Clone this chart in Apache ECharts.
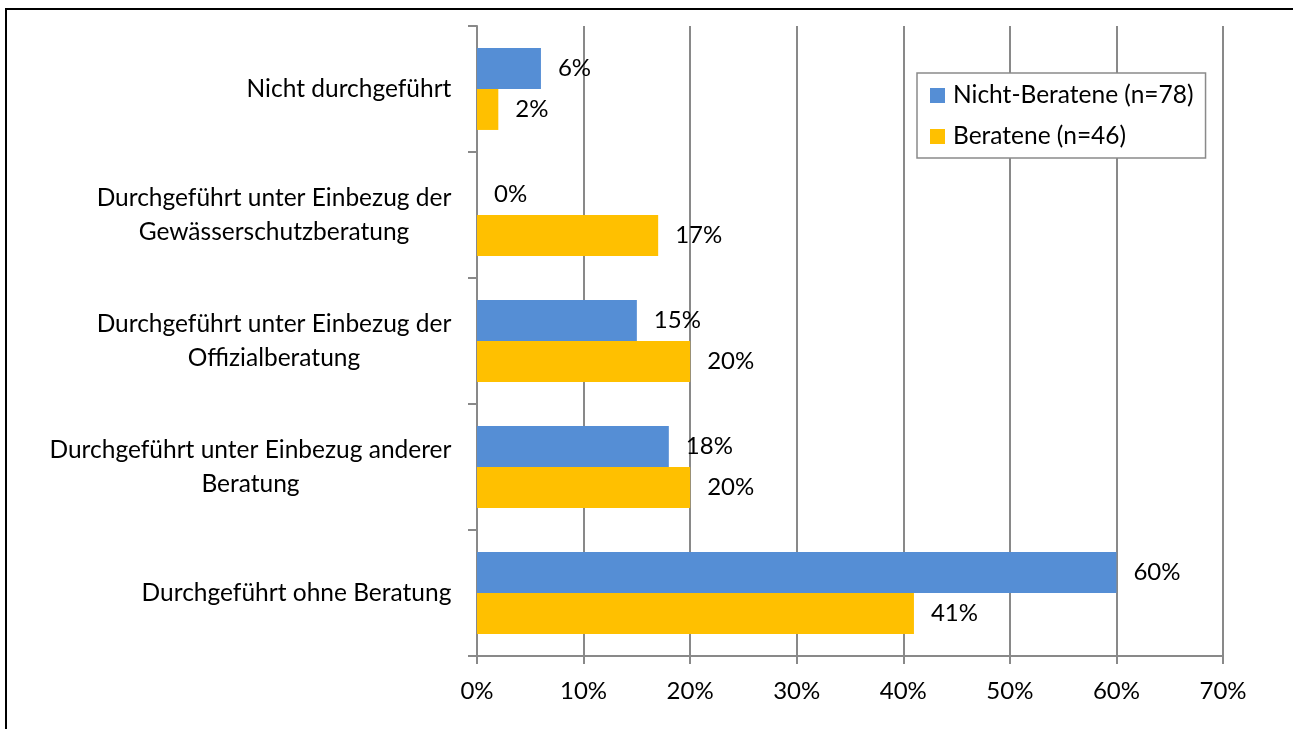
<!DOCTYPE html>
<html>
<head>
<meta charset="utf-8">
<script src="https://cdn.jsdelivr.net/npm/echarts@6/dist/echarts.min.js"></script>
<style>
  html, body { margin: 0; padding: 0; background: #fff; }
  #wrap { position: relative; width: 1293px; height: 729px; overflow: hidden; }
  #frame { position: absolute; left: 5px; top: 8px; right: -10px; bottom: -10px;
           border-left: 2px solid #000; border-top: 2px solid #000; pointer-events: none; }
  #chart { position: absolute; left: 0; top: 0; width: 1293px; height: 729px; }
</style>
</head>
<body>
<div id="wrap">
  <div id="chart"></div>
  <div id="frame"></div>
</div>
<script>
// Categories (top to bottom)
const categories = [
  'Nicht durchgeführt',
  'Durchgeführt unter Einbezug der\nGewässerschutzberatung',
  'Durchgeführt unter Einbezug der\nOffizialberatung',
  'Durchgeführt unter Einbezug anderer\nBeratung',
  'Durchgeführt ohne Beratung'
];
// Shares in percent
const nichtBeratene = [6, 0, 15, 18, 60];
const beratene = [2, 17, 20, 20, 41];
const seriesNames = ['Nicht-Beratene (n=78)', 'Beratene (n=46)'];
const xTicks = { min: 0, max: 70, step: 10 };

const FONT = 'Lato';
const catFontSize = 24.5;
const numFontSize = 24;
const legendFontSize = 24.5;

// Width of the longest line of each category label, so that lines
// can be centred inside a right-aligned block.
const ctx = document.createElement('canvas').getContext('2d');
ctx.font = catFontSize + 'px ' + FONT;
const rich = {};
categories.forEach((c, i) => {
  const w = Math.max(...c.split('\n').map(l => ctx.measureText(l).width));
  rich['c' + i] = { width: Math.ceil(w) + 1, align: 'center', fontSize: catFontSize,
                    fontFamily: FONT, color: '#000', lineHeight: 34 };
});

const axisGray = '#898989';
const chart = echarts.init(document.getElementById('chart'), null, { renderer: 'canvas' });

const valueLabel = {
  show: true,
  position: 'right',
  distance: 17,
  color: '#000',
  fontFamily: FONT,
  fontSize: numFontSize,
  formatter: p => Math.round(p.value) + '%'
};

chart.setOption({
  animation: false,
  backgroundColor: '#fff',
  grid: { left: 477, right: 70, top: 26, bottom: 73, containLabel: false },
  legend: {
    orient: 'vertical',
    left: 917,
    top: 73,
    icon: 'rect',
    itemWidth: 15,
    itemHeight: 15,
    itemGap: 16,
    padding: [10, 12, 9, 13],
    borderColor: '#8a8a8a',
    borderWidth: 1.5,
    backgroundColor: '#fff',
    textStyle: { fontFamily: FONT, fontSize: legendFontSize, color: '#000', padding: [0, 0, 0, 3] },
    data: seriesNames
  },
  xAxis: {
    type: 'value',
    min: xTicks.min,
    max: xTicks.max,
    interval: xTicks.step,
    axisLine: { show: true, lineStyle: { color: axisGray, width: 2 } },
    axisTick: { show: true, length: 8, lineStyle: { color: axisGray, width: 2 } },
    splitLine: { show: true, lineStyle: { color: axisGray, width: 2 } },
    axisLabel: { formatter: '{value}%', color: '#000', fontFamily: FONT, fontSize: numFontSize, margin: 23 }
  },
  yAxis: {
    type: 'category',
    inverse: true,
    data: categories,
    axisLine: { show: true, lineStyle: { color: axisGray, width: 2 } },
    axisTick: { show: true, length: 9, lineStyle: { color: axisGray, width: 2 } },
    splitLine: { show: false },
    axisLabel: {
      margin: 25,
      align: 'right',
      formatter: (v, i) => v.split('\n').map(l => '{c' + i + '|' + l + '}').join('\n'),
      rich: rich
    }
  },
  series: [
    {
      name: seriesNames[0],
      type: 'bar',
      data: nichtBeratene,
      barGap: '0%',
      barCategoryGap: '35%',
      itemStyle: { color: '#558ED5' },
      label: valueLabel
    },
    {
      name: seriesNames[1],
      type: 'bar',
      data: beratene,
      barGap: '0%',
      barCategoryGap: '35%',
      itemStyle: { color: '#FFC000' },
      label: valueLabel
    }
  ]
});
</script>
</body>
</html>
